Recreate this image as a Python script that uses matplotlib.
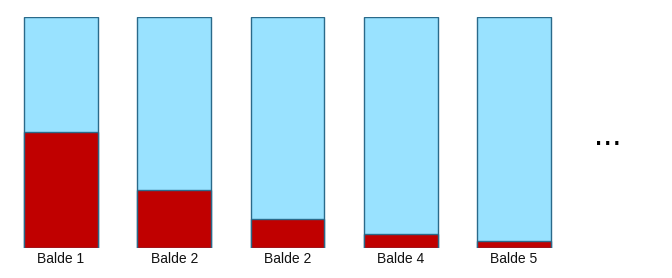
import numpy as np
import matplotlib
matplotlib.use("Agg")
from matplotlib import pyplot as plt

labels = ["Balde 1", "Balde 2", "Balde 2", "Balde 4", "Balde 5"]
capacity = [1.0, 1.0, 1.0, 1.0, 1.0]
filled = [0.50, 0.25, 0.125, 0.0625, 0.031]

plt.rcParams['font.family'] = ['Liberation Sans', 'DejaVu Sans']

fig = plt.figure(figsize=(6.72, 2.78), dpi=100)
ax = fig.add_axes([0, 30 / 278, 1, 231.5 / 278])

x = np.arange(len(labels))
w = 0.653
edge = '#2a6a8a'
ax.bar(x, capacity, width=w, color='#99e2ff', edgecolor=edge, linewidth=1.0)
ax.bar(x, filled, width=w, color='#c00000', edgecolor=edge, linewidth=1.0)

for i, lab in enumerate(labels):
    ax.text(i, -0.018, lab, ha='center', va='top', fontsize=10, color='#111111')

# continuation marker
ax.text(4.83, 0.445, '...', ha='center', va='baseline', fontsize=24,
        color='black')

ax.set_xlim(-61 / 113.25, (672 - 61) / 113.25)
ax.set_ylim(0, 1.0)
ax.axis('off')

fig.savefig('out.png', dpi=100)
